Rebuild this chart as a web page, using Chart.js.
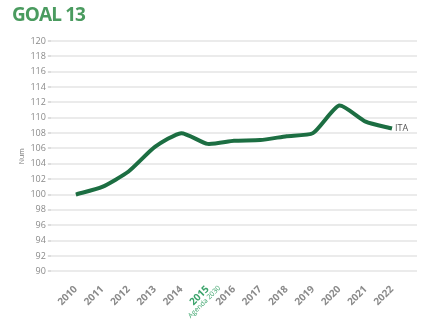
<!DOCTYPE html>
<html lang="en">
<head>
  <meta charset="UTF-8" />
  <title>Goal 13</title>
  <script src="https://cdn.jsdelivr.net/npm/chart.js"></script>
  <style>
    body {
      margin: 0;
      background: #ffffff;
      font-family: 'Open Sans', sans-serif;
    }

    .wrap {
      position: relative;
      width: 448px;
      height: 332px;
    }

    .goal {
      position: absolute;
      left: 12px;
      top: 1px;
      font-size: 19px;
      font-weight: 700;
      color: #4a9b5f;
      letter-spacing: -0.9px;
    }
  </style>
</head>
<body>

  <div class="wrap">
    <div class="goal">GOAL 13</div>
    <canvas id="goalChart" width="448" height="332"></canvas>
  </div>

  <script>
    const years = [2010, 2011, 2012, 2013, 2014, 2015, 2016, 2017, 2018, 2019, 2020, 2021, 2022];
    const itaValues = [100, 101, 103, 106.2, 108, 106.6, 107, 107.1, 107.6, 108, 111.6, 109.5, 108.6];
    const seriesName = 'ITA';
    const yMin = 90;
    const yMax = 120;
    const yStep = 2;
    const highlightYear = 2015;
    const highlightNote = 'Agenda 2030';

    // series name right of the last point, small note under the highlighted year
    const annotations = {
      id: 'annotations',
      afterDraw(chart) {
        const ctx = chart.ctx;
        const meta = chart.getDatasetMeta(0);
        const last = meta.data[meta.data.length - 1];
        ctx.save();
        ctx.font = '9px "Open Sans", sans-serif';
        ctx.fillStyle = '#555555';
        ctx.textBaseline = 'middle';
        ctx.fillText(seriesName, last.x + 3, last.y);

        const xs = chart.scales.x;
        ctx.translate(xs.getPixelForValue(highlightYear) + 3, xs.top + 4);
        ctx.rotate(-Math.PI / 4);
        ctx.font = '7px "Open Sans", sans-serif';
        ctx.fillStyle = '#3aa36a';
        ctx.textAlign = 'right';
        ctx.textBaseline = 'top';
        ctx.fillText(highlightNote, -2, 11);
        ctx.restore();
      }
    };

    new Chart(document.getElementById('goalChart'), {
      type: 'line',
      data: {
        datasets: [{
          label: seriesName,
          data: years.map((y, i) => ({ x: y, y: itaValues[i] })),
          borderColor: '#1c6e42',
          borderWidth: 4,
          pointRadius: 0,
          tension: 0.2,
          fill: false
        }]
      },
      options: {
        responsive: false,
        animation: false,
        layout: { padding: { top: 41, right: 31, left: 16, bottom: 20 } },
        plugins: {
          legend: { display: false },
          tooltip: { enabled: false }
        },
        scales: {
          x: {
            type: 'linear',
            min: years[0] - 0.95,
            max: years[years.length - 1] + 0.95,
            afterBuildTicks(scale) {
              scale.ticks = years.map(v => ({ value: v }));
            },
            grid: { display: false },
            border: { display: false },
            ticks: {
              maxRotation: 45,
              minRotation: 45,
              autoSkip: false,
              padding: 4,
              font: { size: 10, weight: 'bold', family: '"Open Sans", sans-serif' },
              color: ctx => ctx.tick && ctx.tick.value === highlightYear ? '#3aa36a' : '#8a8a8a',
              callback: v => String(v)
            }
          },
          y: {
            min: yMin,
            max: yMax,
            title: {
              display: true,
              text: 'Num',
              color: '#777777',
              font: { size: 7, family: '"Open Sans", sans-serif' },
              padding: 2
            },
            grid: {
              color: '#ebebeb',
              lineWidth: 2,
              drawTicks: true,
              tickLength: 3,
              tickColor: '#dddddd'
            },
            border: { display: false },
            ticks: {
              stepSize: yStep,
              padding: 2,
              color: '#8a8a8a',
              font: { size: 9, family: '"Open Sans", sans-serif' }
            }
          }
        }
      },
      plugins: [annotations]
    });
  </script>

</body>
</html>
